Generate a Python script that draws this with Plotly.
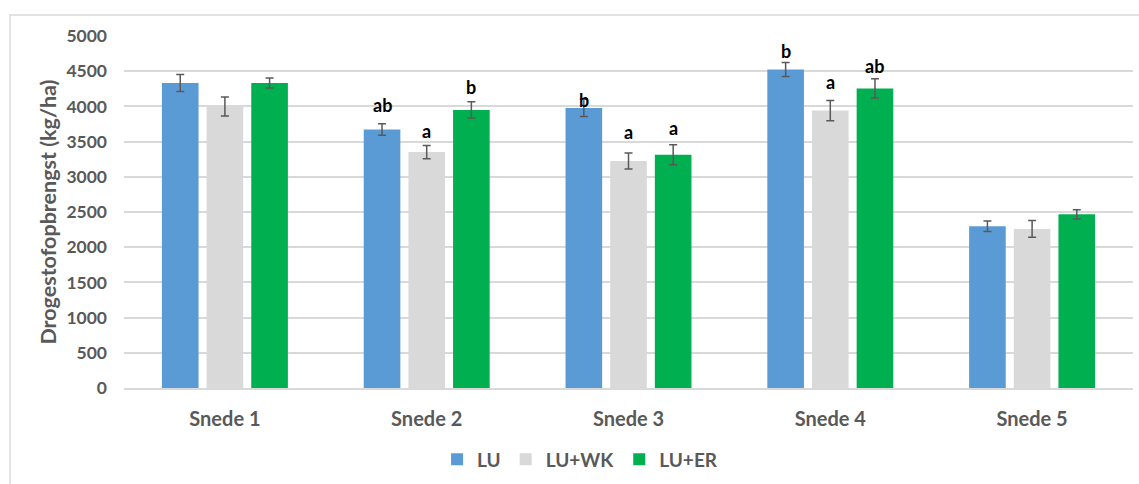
import plotly.graph_objects as go

categories = ["Snede 1", "Snede 2", "Snede 3", "Snede 4", "Snede 5"]
series_names = ["LU", "LU+WK", "LU+ER"]
lu_values = [4332, 3672, 3978, 4524, 2298]
lu_err = [122, 83, 122, 101, 75]
wk_values = [3997, 3352, 3225, 3941, 2260]
wk_err = [135, 94, 113, 144, 118]
er_values = [4332, 3950, 3314, 4256, 2467]
er_err = [70, 115, 143, 137, 66]
lu_letters = ["", "ab", "b", "b", ""]
wk_letters = ["", "a", "a", "a", ""]
er_letters = ["", "b", "a", "ab", ""]
lu_letter_y = [None, 3908, 3979, 4671, None]
wk_letter_y = [None, 3541, 3521, 4227, None]
er_letter_y = [None, 4167, 3578, 4463, None]
y_ticks = [0, 500, 1000, 1500, 2000, 2500, 3000, 3500, 4000, 4500, 5000]

colors = ["#5B9BD5", "#D9D9D9", "#00B050"]
FONT = "Lato"
GRAY = "#595959"

fig = go.Figure()
for name, vals, errs, col in zip(series_names, [lu_values, wk_values, er_values],
                                 [lu_err, wk_err, er_err], colors):
    fig.add_trace(go.Bar(
        x=categories, y=vals, name=name, marker=dict(color=col, line=dict(width=0)),
        error_y=dict(type="data", array=errs, visible=True, color=GRAY, thickness=1.5, width=4),
    ))

bargap = 0.336
slot = (1 - bargap) / 3
offsets = [-slot, 0, slot]
annotations = []
for k, (letters, ys) in enumerate(zip([lu_letters, wk_letters, er_letters],
                                      [lu_letter_y, wk_letter_y, er_letter_y])):
    for i, (t, yv) in enumerate(zip(letters, ys)):
        if t:
            annotations.append(dict(
                x=i + offsets[k], y=yv, xref="x", yref="y", text=t, showarrow=False,
                yanchor="bottom", yshift=-5,
                font=dict(family=FONT, size=18, color="#000000", weight="bold"),
            ))

fig.update_layout(
    width=1139, height=484,
    margin=dict(l=124, r=6, t=36, b=94),
    paper_bgcolor="white", plot_bgcolor="white",
    barmode="group", bargap=bargap, bargroupgap=0.18,
    font=dict(family=FONT, color=GRAY),
    showlegend=True,
    legend=dict(orientation="h", x=0.452, xanchor="center", y=-0.203, yanchor="middle",
                font=dict(family=FONT, size=19, color=GRAY, weight="bold"),
                itemwidth=30, traceorder="normal"),
    annotations=annotations,
    shapes=[dict(type="rect", xref="paper", yref="paper",
                 x0=(10 - 124) / 1009, x1=1.2, y0=-1, y1=(390 - 15) / 354,
                 line=dict(color="#D9D9D9", width=1.5), layer="below")],
)
fig.update_xaxes(
    type="category", showgrid=False, showline=True, linecolor="#D9D9D9", linewidth=1.5,
    ticks="", tickfont=dict(family=FONT, size=20, color=GRAY, weight="bold"),
    ticklabelstandoff=12,
)
fig.update_yaxes(
    range=[0, 5000], tickvals=y_ticks, showgrid=True, gridcolor="#D9D9D9", gridwidth=1.5,
    zeroline=False, showline=False, ticks="",
    tickfont=dict(family=FONT, size=17.5, color=GRAY, weight="bold"),
    ticklabelstandoff=16,
    title=dict(text="Drogestofopbrengst (kg/ha)", standoff=3,
               font=dict(family=FONT, size=21.5, color=GRAY, weight="bold")),
)

fig.write_html("out.html", config={"displayModeBar": False},
               post_script="document.body.style.margin='0';document.body.style.overflow='hidden';")
